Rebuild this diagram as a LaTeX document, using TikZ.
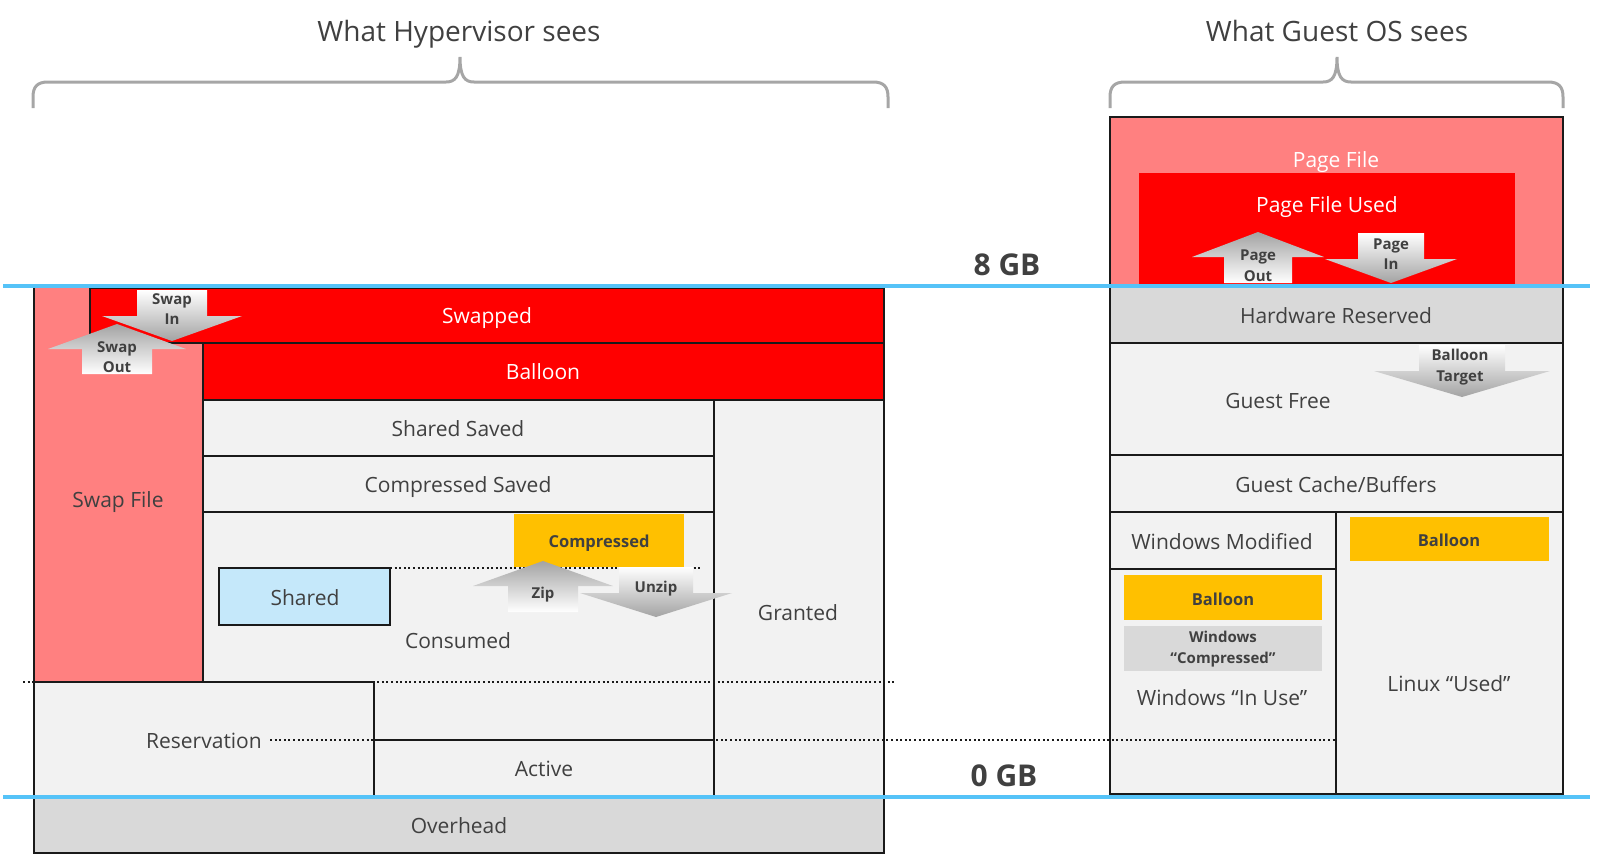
\documentclass[tikz,border=0pt]{standalone}
\usepackage{fontspec}
\setmainfont{Open Sans}

\definecolor{edge}{HTML}{1A1A1A}
\definecolor{txt}{HTML}{404040}
\definecolor{lightred}{HTML}{FF8080}
\definecolor{memred}{HTML}{FF0000}
\definecolor{pale}{HTML}{F2F2F2}
\definecolor{midgray}{HTML}{D9D9D9}
\definecolor{amber}{HTML}{FFC000}
\definecolor{sky}{HTML}{C5E8FA}
\definecolor{levelblue}{HTML}{55C3F8}
\definecolor{bracegray}{HTML}{A6A6A6}
\definecolor{arrowgray}{HTML}{A3A3A3}

\begin{document}
\begin{tikzpicture}[x=1pt, y=-1pt,
    box/.style={draw=edge, line width=2pt},
    lbl/.style={text=txt, font=\fontsize{21}{25}\selectfont, text height=1.5ex, text depth=.25ex, yshift=-5pt},
    wlbl/.style={lbl, text=white},
    blbl/.style={text=txt, font=\fontsize{16.5}{20}\selectfont\bfseries, text height=1.5ex, text depth=.25ex, yshift=-4pt},
    albl/.style={text=txt, font=\fontsize{15}{20.7}\selectfont\bfseries, align=center},
    title/.style={text=txt, font=\fontsize{28}{32}\selectfont, text height=1.5ex, text depth=.25ex, yshift=-7pt},
    gb/.style={text=txt, font=\fontsize{30}{34}\selectfont\bfseries},
    brace/.style={draw=bracegray, line width=3pt},
    level/.style={draw=levelblue, line width=4pt},
    dots/.style={draw=edge, line width=2pt, dash pattern=on 2pt off 2.6pt},
    upshade/.style={top color=arrowgray, bottom color=white},
    downshade/.style={top color=white, bottom color=arrowgray}]
    \useasboundingbox (0,0) rectangle (1611,855);

    % Guest OS column
    \filldraw[box, fill=lightred] (1110,117) rectangle (1563,287);
    \fill[memred] (1139,173) rectangle (1515,287);
    \filldraw[box, fill=midgray] (1110,287) rectangle (1563,343);
    \filldraw[box, fill=pale] (1110,343) rectangle (1563,455);
    \filldraw[box, fill=pale] (1110,455) rectangle (1563,512);
    \filldraw[box, fill=pale] (1110,512) rectangle (1336,569);
    \filldraw[box, fill=pale] (1110,569) rectangle (1336,794);
    \filldraw[box, fill=pale] (1336,512) rectangle (1563,794);
    \fill[amber] (1124,575) rectangle (1322,620);
    \fill[midgray] (1124,626) rectangle (1322,671);
    \fill[amber] (1350,517) rectangle (1549,561);

    % Hypervisor column
    \filldraw[box, fill=lightred] (34,287) rectangle (203,682);
    \filldraw[box, fill=memred] (90,288) rectangle (884,343);
    \filldraw[box, fill=memred] (203,343) rectangle (884,400);
    \filldraw[box, fill=pale] (203,400) rectangle (714,456);
    \filldraw[box, fill=pale] (203,456) rectangle (714,512);
    \filldraw[box, fill=pale] (203,512) rectangle (714,796);
    \filldraw[box, fill=pale] (714,400) rectangle (884,796);
    \fill[amber] (514,514) rectangle (684,567);
    \filldraw[box, fill=sky] (219,568) rectangle (390,625);
    \filldraw[box, fill=pale] (34,682) rectangle (374,796);
    \filldraw[box, fill=pale] (374,740) rectangle (714,796);
    \filldraw[box, fill=midgray] (34,796) rectangle (884,853);

    % Dotted guide lines
    \draw[dots] (390,568) -- (702,568);
    \draw[dots] (23,682) -- (894,682);
    \draw[dots] (270,740) -- (1336,740);

    % Braces and titles
    \draw[brace] (33,108) -- (33,97) .. controls (33,87) and (37,82) .. (48,82) -- (446,82)
        .. controls (455,82) and (460,77) .. (460,57) .. controls (460,77) and (465,82) .. (474,82)
        -- (873,82) .. controls (884,82) and (888,87) .. (888,97) -- (888,108);
    \draw[brace] (1110,108) -- (1110,97) .. controls (1110,87) and (1114,82) .. (1125,82) -- (1323,82)
        .. controls (1332,82) and (1337,77) .. (1337,57) .. controls (1337,77) and (1342,82) .. (1351,82)
        -- (1548,82) .. controls (1559,82) and (1563,87) .. (1563,97) -- (1563,108);
    \node[title] (hvtitle) at (459,31) {What Hypervisor sees};
    \node[title] (gosttitle) at (1337,31) {What Guest OS sees};

    % Box labels
    \node[wlbl] (swapped) at (487,315) {Swapped};
    \node[wlbl] (balloon) at (543,371) {Balloon};
    \node[lbl] (sharedsaved) at (458,428) {Shared Saved};
    \node[lbl] (compsaved) at (458,484) {Compressed Saved};
    \node[lbl] (swapfile) at (118,499) {Swap File};
    \node[lbl] (shared) at (305,597) {Shared};
    \node[blbl] (compressed) at (599,540) {Compressed};
    \node[lbl] (consumed) at (458,640) {Consumed};
    \node[lbl] (granted) at (798,612) {Granted};
    \node[lbl, fill=pale, inner sep=2pt] (reservation) at (204,740) {Reservation};
    \node[lbl] (active) at (544,768) {Active};
    \node[lbl] (overhead) at (459,825) {Overhead};
    \node[gb] (eightgb) at (1007,265) {8 GB};
    \node[gb] (zerogb) at (1004,776) {0 GB};
    \node[wlbl] (pagefile) at (1336,159) {Page File};
    \node[wlbl] (pageused) at (1327,204) {Page File Used};
    \node[lbl] (hwres) at (1336,315) {Hardware Reserved};
    \node[lbl] (guestfree) at (1278,400) {Guest Free};
    \node[lbl] (guestcache) at (1336,484) {Guest Cache/Buffers};
    \node[lbl] (winmod) at (1222,541) {Windows Modified};
    \node[blbl] (winballoon) at (1223,598) {Balloon};
    \node[albl] (wincomp) at (1223,649) {Windows\\“Compressed”};
    \node[lbl] (winuse) at (1222,697) {Windows “In Use”};
    \node[blbl] (lnxballoon) at (1449,539) {Balloon};
    \node[lbl] (lnxused) at (1449,683) {Linux “Used”};

    % Block arrows
    \shade[downshade] (172,341) -- (242,316) -- (207,316) -- (207,290) -- (137,290) -- (137,316) -- (102,316) -- cycle;
    \shade[upshade] (117,324) -- (186,349) -- (152,349) -- (152,374) -- (82,374) -- (82,349) -- (48,349) -- cycle;
    \shade[upshade] (543,561) -- (613,586) -- (578,586) -- (578,612) -- (508,612) -- (508,586) -- (473,586) -- cycle;
    \shade[downshade] (656,617) -- (732,593) -- (693,593) -- (693,567) -- (619,567) -- (619,593) -- (580,593) -- cycle;
    \shade[upshade] (1258,232) -- (1324,257) -- (1292,257) -- (1292,283) -- (1224,283) -- (1224,257) -- (1192,257) -- cycle;
    \shade[downshade] (1391,283) -- (1457,259) -- (1424,259) -- (1424,233) -- (1358,233) -- (1358,259) -- (1325,259) -- cycle;
    \shade[downshade] (1462,397) -- (1550,371) -- (1505,371) -- (1505,345) -- (1419,345) -- (1419,371) -- (1374,371) -- cycle;

    % Arrow labels
    \node[albl] (swapin) at (172,309) {Swap\\In};
    \node[albl] (swapout) at (117,357) {Swap\\Out};
    \node[albl] (zip) at (543,595) {Zip};
    \node[albl] (unzip) at (656,589) {Unzip};
    \node[albl] (pageout) at (1258,266) {Page\\Out};
    \node[albl] (pagein) at (1391,254) {Page\\In};
    \node[albl] (baltarget) at (1460,367) {Balloon\\Target};

    % 8 GB and 0 GB levels
    \draw[level] (3,286) -- (1590,286);
    \draw[level] (3,797) -- (1590,797);
\end{tikzpicture}
\end{document}
